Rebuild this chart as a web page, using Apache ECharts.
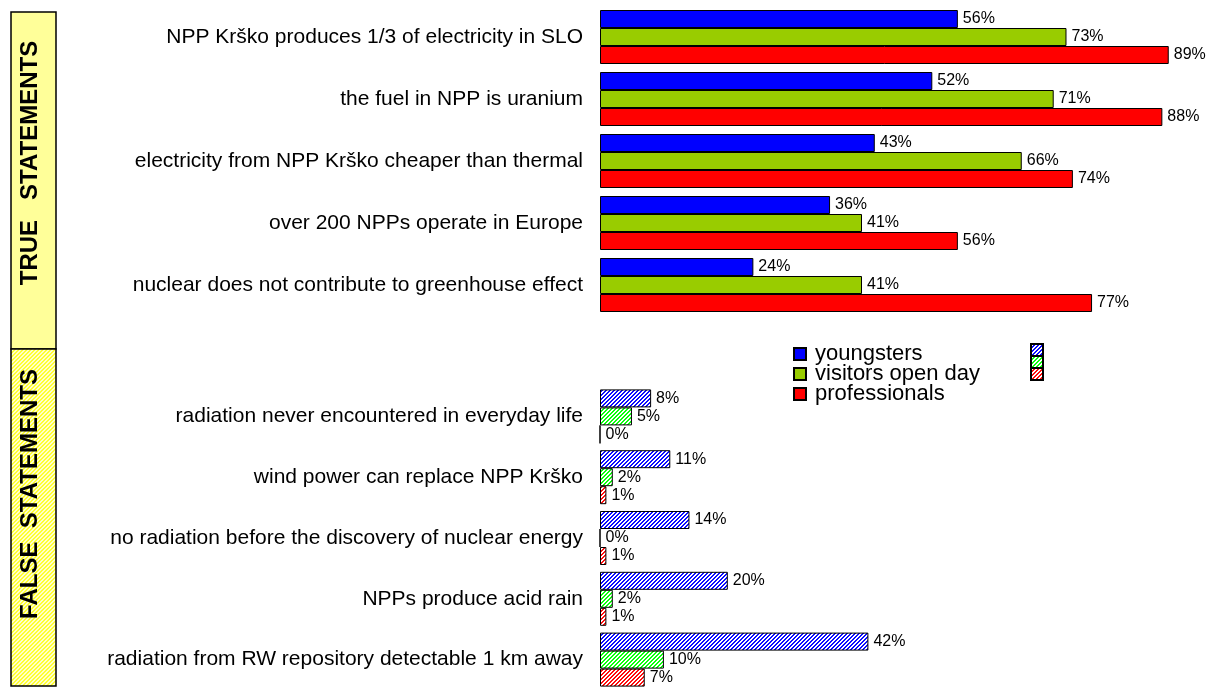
<!DOCTYPE html>
<html>
<head>
<meta charset="utf-8">
<script src="https://cdn.jsdelivr.net/npm/echarts@6/dist/echarts.min.js"></script>
<style>
  html, body { margin: 0; padding: 0; background: #fff; }
  #chart { width: 1209px; height: 690px; }
</style>
</head>
<body>
<div id="chart"></div>
<script>
// Statements shown in each block
const trueStatements = [
  'NPP Krško produces 1/3 of electricity in SLO',
  'the fuel in NPP is uranium',
  'electricity from NPP Krško cheaper than thermal',
  'over 200 NPPs operate in Europe',
  'nuclear does not contribute to greenhouse effect'
];
const falseStatements = [
  'radiation never encountered in everyday life',
  'wind power can replace NPP Krško',
  'no radiation before the discovery of nuclear energy',
  'NPPs produce acid rain',
  'radiation from RW repository detectable 1 km away'
];
const groups = ['youngsters', 'visitors open day', 'professionals'];

// Share (%) of each group that recognised the statement as true
const trueYoungsters = [56, 52, 43, 36, 24];
const trueVisitors = [73, 71, 66, 41, 41];
const trueProfessionals = [89, 88, 74, 56, 77];
const falseYoungsters = [8, 11, 14, 20, 42];
const falseVisitors = [5, 2, 0, 2, 10];
const falseProfessionals = [0, 1, 1, 1, 7];

const solidColors = ['#0000ff', '#99cc00', '#ff0000'];
const hatchColors = ['#0d0dff', '#0dff0d', '#ff0d0d'];

// Diagonal hatch fill built on a small tile
function hatch(color, bg) {
  const c = document.createElement('canvas');
  c.width = 4; c.height = 4;
  const g = c.getContext('2d');
  g.fillStyle = bg; g.fillRect(0, 0, 4, 4);
  g.fillStyle = color;
  for (let y = 0; y < 4; y++) {
    const x = 3 - y;
    g.fillRect(x, y, 1, 1);
    g.fillRect((x + 1) % 4, y, 1, 1);
  }
  return { image: c, repeat: 'repeat' };
}

const font = 'Liberation Sans, Arial, sans-serif';
const labelStyle = {
  show: true, position: 'right', distance: 5,
  formatter: p => p.value + '%',
  color: '#000', fontFamily: font, fontSize: 16
};

function barSeries(name, data, grid, color) {
  return {
    name, type: 'bar', data,
    xAxisIndex: grid, yAxisIndex: grid,
    barWidth: 18, barGap: '0%',
    itemStyle: { color, borderColor: '#000', borderWidth: 1 },
    label: labelStyle,
    animation: false
  };
}

const trueData = [trueYoungsters, trueVisitors, trueProfessionals];
const falseData = [falseYoungsters, falseVisitors, falseProfessionals];

const series = [];
groups.forEach((g, i) => series.push(barSeries(g, trueData[i], 0, solidColors[i])));
groups.forEach((g, i) => series.push(barSeries(g + ' (false)', falseData[i], 1, hatch(hatchColors[i], '#ffffff'))));

const catAxis = (cats, idx) => ({
  type: 'category', data: cats, inverse: true, gridIndex: idx,
  axisLine: { show: false }, axisTick: { show: false },
  axisLabel: { color: '#000', fontFamily: font, fontSize: 21, margin: 17 }
});
// the value scale runs past the right edge of the page
const valAxis = idx => ({
  type: 'value', min: 0, max: 95.3, gridIndex: idx, show: false
});

const legendCommon = {
  orient: 'vertical', top: 338,
  itemWidth: 12, itemHeight: 12, itemGap: -2, icon: 'rect'
};

const chart = echarts.init(document.getElementById('chart'), null, { renderer: 'canvas' });
chart.setOption({
  backgroundColor: '#fff',
  animation: false,
  grid: [
    { left: 600, right: 0, top: 6, height: 310 },
    { left: 600, right: 0, top: 386, height: 310 }
  ],
  xAxis: [valAxis(0), valAxis(1)],
  yAxis: [catAxis(trueStatements, 0), catAxis(falseStatements, 1)],
  legend: [
    Object.assign({}, legendCommon, {
      data: groups, left: 788,
      textStyle: { fontFamily: font, fontSize: 22, color: '#000', padding: [0, 0, 0, 4] }
    }),
    Object.assign({}, legendCommon, {
      data: groups.map(g => g + ' (false)'), left: 1025,
      formatter: () => '',
      textStyle: { fontFamily: font, fontSize: 22 }
    })
  ],
  graphic: [
    {
      type: 'rect', shape: { x: 11, y: 12, width: 45, height: 337 },
      style: { fill: '#ffff99', stroke: '#000', lineWidth: 1.5 }
    },
    {
      type: 'rect', shape: { x: 11, y: 349, width: 45, height: 337 },
      style: { fill: hatch('#ffff33', '#ffffcc'), stroke: '#000', lineWidth: 1.5 }
    },
    {
      type: 'text', x: 30, y: 163, rotation: Math.PI / 2,
      style: { text: 'TRUE   STATEMENTS', fill: '#000', font: 'bold 24px ' + font, align: 'center', verticalAlign: 'middle' }
    },
    {
      type: 'text', x: 30, y: 494, rotation: Math.PI / 2,
      style: { text: 'FALSE  STATEMENTS', fill: '#000', font: 'bold 24px ' + font, align: 'center', verticalAlign: 'middle' }
    }
  ],
  series
});
</script>
</body>
</html>
